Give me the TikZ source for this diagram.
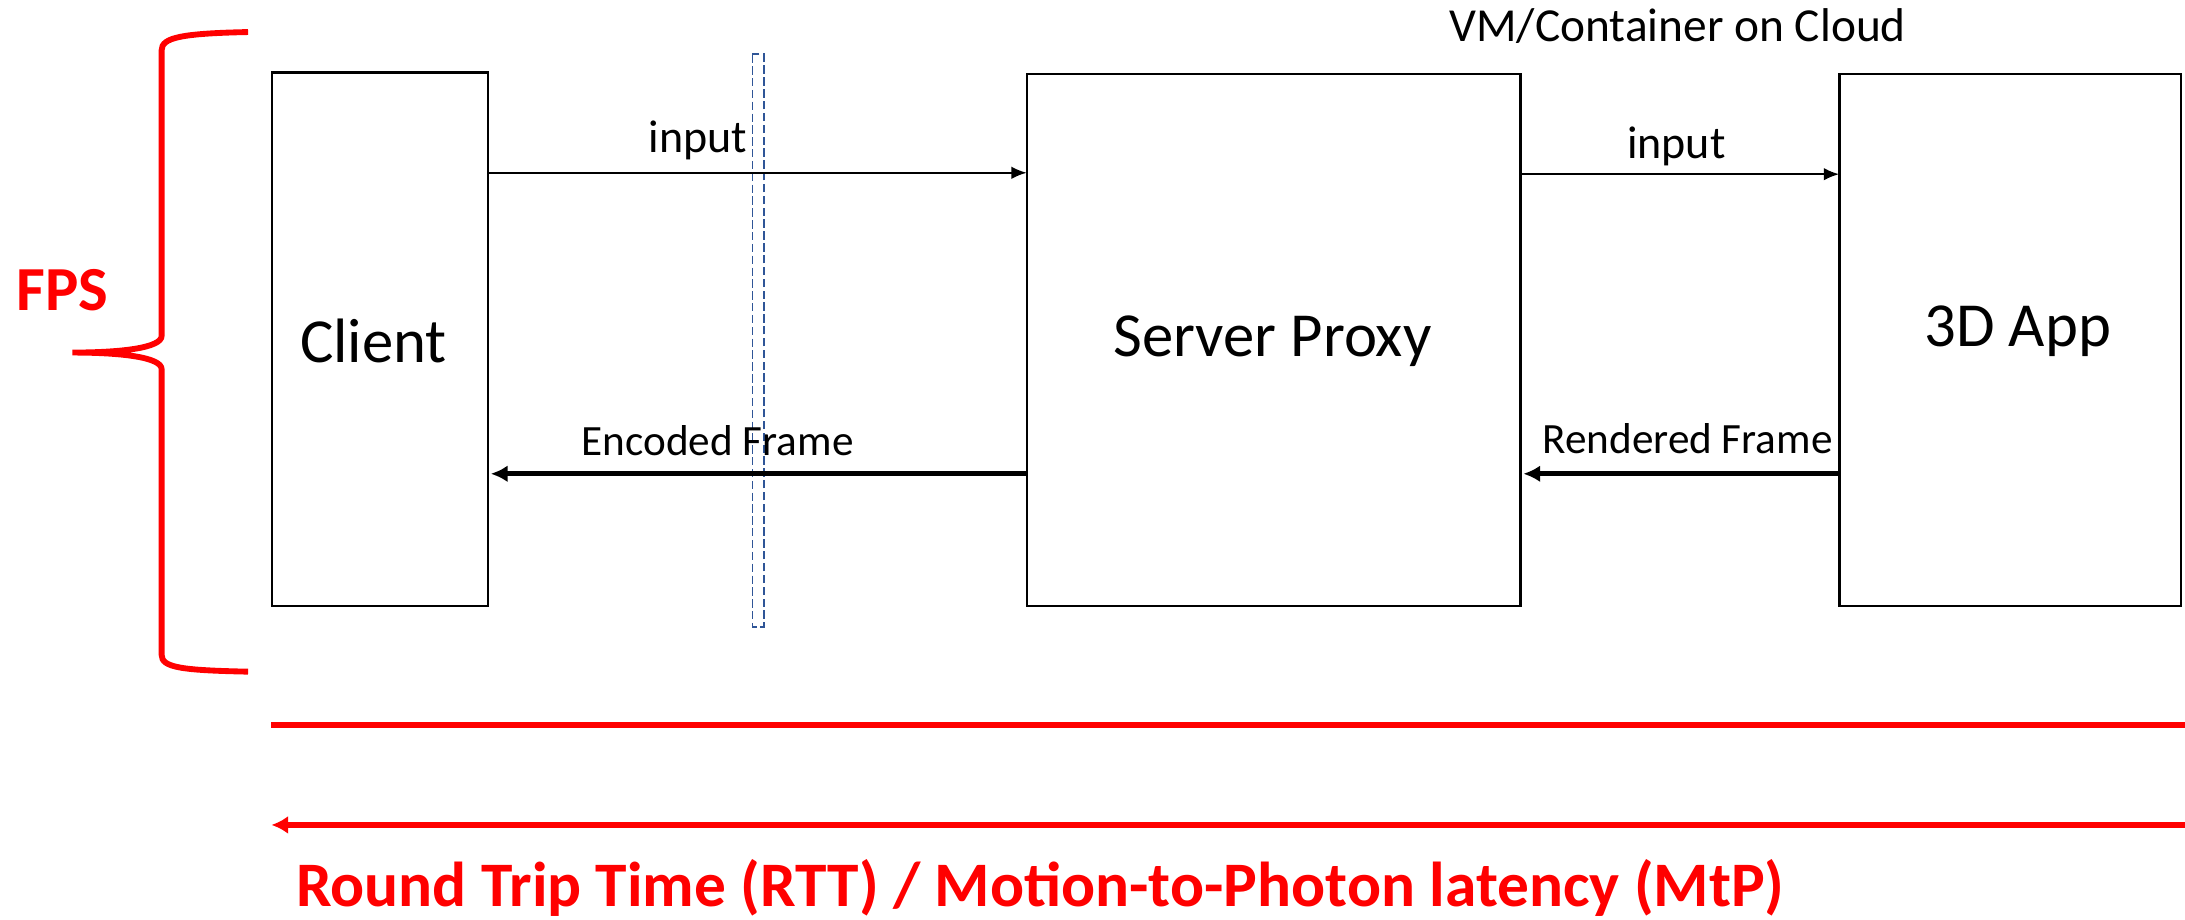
\documentclass[tikz,border=0pt]{standalone}
\usepackage{fontspec}
\setmainfont{Carlito}
\usetikzlibrary{arrows.meta}
\definecolor{fpsred}{RGB}{255,0,0}
\definecolor{sepblue}{RGB}{47,85,151}
\tikzset{
  blk/.style={draw=black, line width=1.7pt, inner sep=0pt},
  big/.style={font=\fontsize{45}{54}\selectfont},
  lbl/.style={inner sep=0pt, font=\fontsize{31}{37}\selectfont},
  inlbl/.style={inner sep=0pt, font=\fontsize{33}{40}\selectfont},
  thin arrow/.style={line width=1.4pt, -{Latex[length=11pt,width=9pt]}},
  thick arrow/.style={line width=3.8pt, -{Latex[length=12pt,width=12pt]}},
  redline/.style={draw=fpsred, line width=4.3pt},
}
\begin{document}
\begin{tikzpicture}[x=1pt,y=-1pt]
\useasboundingbox (0,0) rectangle (1568,660);
% boxes
\draw[blk] (195,52) rectangle (350,435);
\node[inner sep=0pt, minimum width=155pt, minimum height=383pt] (client) at (272.5,243.5) {};
\node[big, inner sep=0pt] (clientt) at (268,245) {Client};
\draw[blk] (737,53) rectangle (1091,435);
\node[inner sep=0pt, minimum width=354pt, minimum height=382pt] (proxy) at (914,244) {};
\node[big, inner sep=0pt] (proxyt) at (913,245) {Server Proxy};
\draw[blk] (1320,53) rectangle (1565,435);
\node[inner sep=0pt, minimum width=245pt, minimum height=382pt] (app) at (1442.5,244) {};
\node[big, inner sep=0pt] (appt) at (1448,238) {3D App};
% cloud label
\node[inner sep=0pt, font=\fontsize{34}{40}\selectfont] (cloud) at (1204,19) {VM/Container on Cloud};
% separator
\draw[draw=sepblue, line width=1.4pt, dash pattern=on 6pt off 2.5pt] (540,39) rectangle (548,450);
\node[inner sep=0pt, minimum width=8pt, minimum height=411pt] (sep) at (544,244.5) {};
% arrows
\draw[thin arrow] (client.east |- 0,124) -- (proxy.west |- 0,124);
\node[inlbl] (in1) at (501,101) {input};
\draw[thin arrow] (proxy.east |- 0,125) -- (app.west |- 0,125);
\node[inlbl] (in2) at (1203,105) {input};
\draw[thick arrow] (proxy.west |- 0,340) -- ([xshift=2pt]client.east |- 0,340);
\node[lbl] (enc) at (515,316) {Encoded Frame};
\draw[thick arrow] (app.west |- 0,340) -- ([xshift=2pt]proxy.east |- 0,340);
\node[lbl] (ren) at (1211,315) {Rendered Frame};
% FPS brace
\draw[draw=fpsred, line width=4.2pt]
  (178,23) .. controls (130,24) and (116,27) .. (116,36) -- (116,241)
  .. controls (116,250) and (85,253) .. (52,253)
  .. controls (85,253) and (116,256) .. (116,265) -- (116,470)
  .. controls (116,479) and (130,481) .. (178,482);
\node[inner sep=0pt, text=fpsred, font=\fontsize{45}{54}\selectfont\bfseries] (fps) at (45,208) {FPS};
% RTT lines
\coordinate (rttTopR) at (1568,520);
\coordinate (rttBotR) at (1568,592);
\draw[redline] (client.west |- rttTopR) -- (rttTopR);
\draw[redline, -{Latex[length=12pt,width=13pt]}] (rttBotR) -- (client.west |- rttBotR);
\node[inner sep=0pt, text=fpsred, font=\fontsize{45.5}{54}\selectfont\bfseries] (rtt) at (746.5,637) {Round Trip Time (RTT) / Motion-to-Photon latency (MtP)};
\end{tikzpicture}
\end{document}
